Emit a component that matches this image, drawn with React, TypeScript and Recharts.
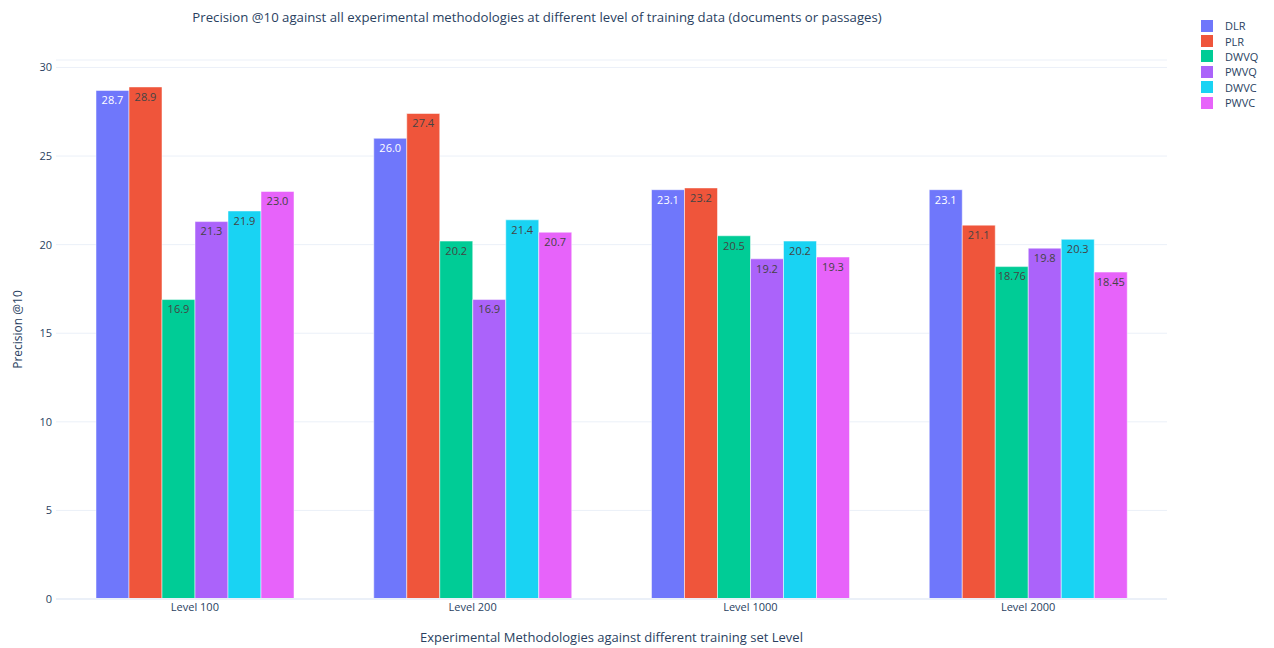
import { Bar, BarChart, CartesianGrid, LabelList, ReferenceLine, XAxis, YAxis, Label } from "recharts"

const levels = ["Level 100", "Level 200", "Level 1000", "Level 2000"]

const DLR = [28.7, 26.0, 23.1, 23.1]
const PLR = [28.9, 27.4, 23.2, 21.1]
const DWVQ = [16.9, 20.2, 20.5, 18.76]
const PWVQ = [21.3, 16.9, 19.2, 19.8]
const DWVC = [21.9, 21.4, 20.2, 20.3]
const PWVC = [23.0, 20.7, 19.3, 18.45]

const yTicks = [0, 5, 10, 15, 20, 25, 30]

const SERIES = [
  { key: "DLR", values: DLR, color: "#6f77fb", text: "#ffffff" },
  { key: "PLR", values: PLR, color: "#ef553b", text: "#444444" },
  { key: "DWVQ", values: DWVQ, color: "#00cc96", text: "#444444" },
  { key: "PWVQ", values: PWVQ, color: "#ab63fa", text: "#444444" },
  { key: "DWVC", values: DWVC, color: "#19d3f3", text: "#444444" },
  { key: "PWVC", values: PWVC, color: "#e763fa", text: "#444444" },
]

const data = levels.map((level, i) => {
  const row: Record<string, string | number> = { level }
  SERIES.forEach(s => { row[s.key] = s.values[i] })
  return row
})

const FONT = "'Open Sans', sans-serif"
const INK = "#2a3f5f"

const fmt = (v: any) => {
  const n = Number(v)
  return Number.isInteger(n) ? n.toFixed(1) : String(n)
}

function LegendBox() {
  return (
    <div style={{ position: "absolute", left: 1201, top: 18, fontFamily: FONT, fontSize: 11, color: INK }}>
      {SERIES.map(s => (
        <div key={s.key} style={{ display: "flex", alignItems: "center", height: 15.4 }}>
          <span style={{ width: 12, height: 12, background: s.color, display: "inline-block", marginRight: 12 }} />
          <span>{s.key}</span>
        </div>
      ))}
    </div>
  )
}

export default function App() {
  return (
    <div style={{ position: "absolute", left: 0, top: 0, width: 1274, height: 648, background: "#fff" }}>
      <div style={{ position: "absolute", left: 0, width: 1074, top: 8, textAlign: "center", fontFamily: FONT, fontSize: 13.2, color: INK }}>
        Precision @10 against all experimental methodologies at different level of training data (documents or passages)
      </div>
      <LegendBox />
      <BarChart
        width={1274}
        height={648}
        data={data}
        margin={{ top: 60, right: 107, bottom: 0, left: 0 }}
        barCategoryGap={40}
        barGap={0}
      >
        <CartesianGrid vertical={false} stroke="#ebf0f8" strokeWidth={1} />
        <ReferenceLine y={0} stroke="#ebf0f8" strokeWidth={2} />
        <XAxis
          dataKey="level"
          height={49}
          tickLine={false}
          axisLine={false}
          tickSize={0}
          tickMargin={4}
          tick={{ fontFamily: FONT, fontSize: 11, fill: INK }}
        >
          <Label value="Experimental Methodologies against different training set Level" position="insideBottom" offset={6}
            style={{ fontFamily: FONT, fontSize: 13, fill: INK }} />
        </XAxis>
        <YAxis
          width={56}
          domain={[0, 30.42]}
          ticks={yTicks}
          tickLine={false}
          axisLine={false}
          tickSize={0}
          tickMargin={4}
          tick={{ fontFamily: FONT, fontSize: 11, fill: INK }}
        >
          <Label value="Precision @10" angle={-90} position="insideLeft" offset={18}
            style={{ fontFamily: FONT, fontSize: 12, fill: INK, textAnchor: "middle" }} />
        </YAxis>
        {SERIES.map(s => (
          <Bar key={s.key} dataKey={s.key} fill={s.color} stroke="#ffffff" strokeWidth={0.5} isAnimationActive={false}>
            <LabelList dataKey={s.key} position="insideTop" offset={6} formatter={fmt}
              style={{ fontFamily: FONT, fontSize: 11, fill: s.text }} />
          </Bar>
        ))}
      </BarChart>
    </div>
  )
}
